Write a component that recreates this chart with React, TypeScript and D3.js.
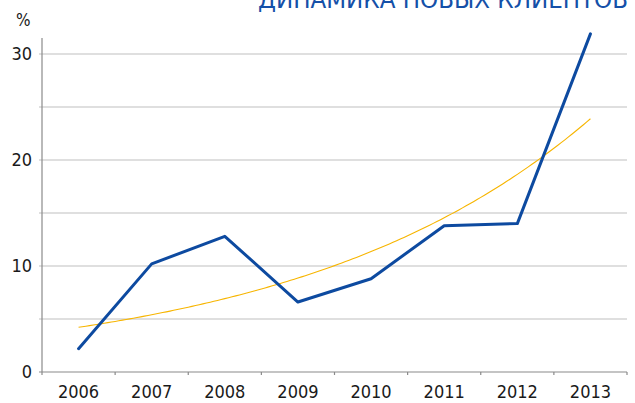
import React, { useEffect, useRef } from 'react';
import * as d3 from 'd3';

const years = ['2006', '2007', '2008', '2009', '2010', '2011', '2012', '2013'];
const clients = [2.2, 10.2, 12.8, 6.6, 8.8, 13.8, 14.0, 31.9];
const gridTicks = [0, 5, 10, 15, 20, 25, 30];
const labelTicks = [0, 10, 20, 30];
const title = 'ДИНАМИКА НОВЫХ КЛИЕНТОВ';

const font = '"Liberation Sans Narrow", "DejaVu Sans Condensed", sans-serif';

// exponential trend line (least squares on ln y), same as the spreadsheet trendline
const expFit = (vals: number[]) => {
  const xs = vals.map((_, i) => i);
  const ys = vals.map((v) => Math.log(v));
  const mx = d3.mean(xs) as number;
  const my = d3.mean(ys) as number;
  const sxy = d3.sum(xs, (x, i) => (x - mx) * (ys[i] - my));
  const sxx = d3.sum(xs, (x) => (x - mx) * (x - mx));
  const b = sxy / sxx;
  const a = my - b * mx;
  return (x: number) => Math.exp(a + b * x);
};

const App = () => {
  const ref = useRef<SVGSVGElement>(null);

  useEffect(() => {
    const svg = d3.select(ref.current);
    svg.selectAll('*').remove();

    const left = 42;
    const right = 627;
    const bottom = 372;
    const top = 38;

    const x = d3.scaleBand().domain(years).range([left, right]);
    const y = d3.scaleLinear().domain([0, 30]).range([bottom, 54]);

    // title, cut by the top edge like in the original layout
    svg
      .append('text')
      .attr('x', 628)
      .attr('y', 8)
      .attr('text-anchor', 'end')
      .attr('font-family', font)
      .attr('font-size', 25)
      .attr('textLength', 370)
      .attr('lengthAdjust', 'spacingAndGlyphs')
      .attr('fill', '#1550a8')
      .text(title);

    // grid
    svg
      .append('g')
      .selectAll('line')
      .data(gridTicks.filter((d) => d > 0))
      .enter()
      .append('line')
      .attr('x1', left - 3)
      .attr('x2', right)
      .attr('y1', (d) => y(d))
      .attr('y2', (d) => y(d))
      .attr('stroke', '#d4d4d4')
      .attr('stroke-width', 1.5);

    // y axis
    svg
      .append('line')
      .attr('x1', left)
      .attr('x2', left)
      .attr('y1', top)
      .attr('y2', bottom)
      .attr('stroke', '#8a8a8a')
      .attr('stroke-width', 1.2);

    svg
      .append('g')
      .selectAll('text')
      .data(labelTicks)
      .enter()
      .append('text')
      .attr('x', left - 10)
      .attr('y', (d) => y(d) + 6)
      .attr('text-anchor', 'end')
      .attr('font-family', font)
      .attr('font-size', 18)
      .attr('fill', '#1a1a1a')
      .text((d) => d);

    svg
      .append('text')
      .attr('x', 16)
      .attr('y', 26)
      .attr('font-family', font)
      .attr('font-size', 17)
      .attr('fill', '#1a1a1a')
      .text('%');

    // x axis
    const xAxis = svg.append('g');
    xAxis
      .append('line')
      .attr('x1', left - 3)
      .attr('x2', right)
      .attr('y1', bottom)
      .attr('y2', bottom)
      .attr('stroke', '#8a8a8a')
      .attr('stroke-width', 1.2);
    xAxis
      .selectAll('.tick')
      .data([...years.map((d) => x(d) as number), right])
      .enter()
      .append('line')
      .attr('x1', (d) => d)
      .attr('x2', (d) => d)
      .attr('y1', bottom)
      .attr('y2', bottom + 3)
      .attr('stroke', '#8a8a8a')
      .attr('stroke-width', 1.2);
    xAxis
      .selectAll('text')
      .data(years)
      .enter()
      .append('text')
      .attr('x', (d) => (x(d) as number) + x.bandwidth() / 2)
      .attr('y', bottom + 26)
      .attr('text-anchor', 'middle')
      .attr('font-family', font)
      .attr('font-size', 18)
      .attr('fill', '#1a1a1a')
      .text((d) => d);

    const cx = (i: number) => (x(years[i]) as number) + x.bandwidth() / 2;

    // trend
    const fit = expFit(clients);
    const trendPts = d3.range(0, clients.length - 1 + 0.001, 0.05);
    svg
      .append('path')
      .datum(trendPts)
      .attr('fill', 'none')
      .attr('stroke', '#f7b500')
      .attr('stroke-width', 1.1)
      .attr(
        'd',
        d3
          .line<number>()
          .x((t) => cx(0) + (cx(1) - cx(0)) * t)
          .y((t) => y(fit(t)))
      );

    // main series
    svg
      .append('path')
      .datum(clients)
      .attr('fill', 'none')
      .attr('stroke', '#0d4aa0')
      .attr('stroke-width', 3)
      .attr('stroke-linejoin', 'round')
      .attr('stroke-linecap', 'round')
      .attr(
        'd',
        d3
          .line<number>()
          .x((_, i) => cx(i))
          .y((d) => y(d))
      );
  }, []);

  return (
    <svg
      ref={ref}
      width={635}
      height={403}
      style={{ position: 'absolute', left: 0, top: 0, background: '#fff' }}
    />
  );
};

export default App;
